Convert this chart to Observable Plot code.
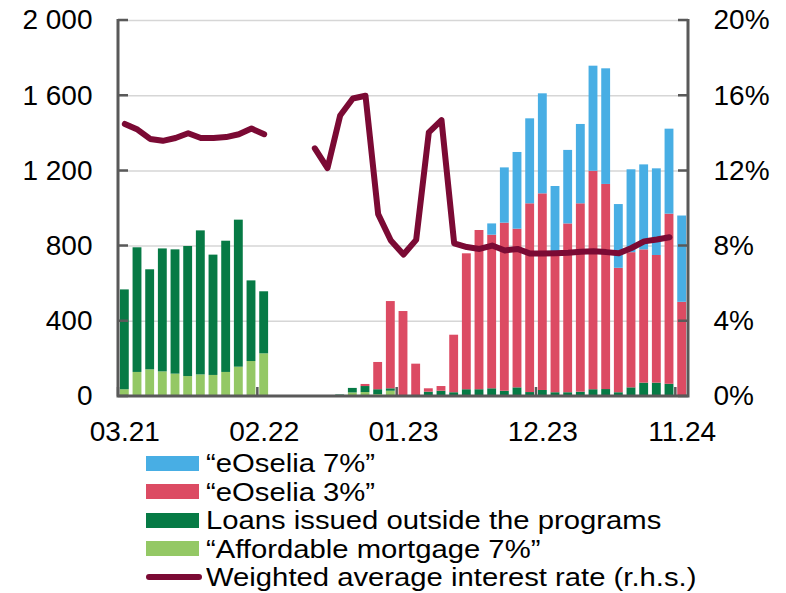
<!DOCTYPE html>
<html>
<head>
<meta charset="utf-8">
<script src="https://cdn.jsdelivr.net/npm/d3@7"></script>
<script src="https://cdn.jsdelivr.net/npm/@observablehq/plot@0.6"></script>
<style>
  html, body { margin: 0; padding: 0; background: #fff; }
  body { width: 786px; height: 593px; overflow: hidden; font-family: "Liberation Sans", Arial, sans-serif; }
  #legend { margin-left: 146px; margin-top: 1px; font-size: 25px; color: #000; }
  .row { display: flex; align-items: center; height: 28.5px; white-space: nowrap; }
  .row span { display: inline-block; line-height: 26px; transform: scaleX(1.17); transform-origin: 0 50%; }
  .sw { width: 53px; height: 15px; margin-right: 7px; flex: none; }
  .ln { width: 56px; height: 6px; border-radius: 3px; margin-right: 4px; flex: none; background: #7B0A34; }
</style>
</head>
<body>
<div id="chart"></div>
<div id="legend"></div>
<script>
const months = ["03.21","04.21","05.21","06.21","07.21","08.21","09.21","10.21","11.21","12.21",
  "01.22","02.22","03.22","04.22","05.22","06.22","07.22","08.22","09.22","10.22","11.22","12.22",
  "01.23","02.23","03.23","04.23","05.23","06.23","07.23","08.23","09.23","10.23","11.23","12.23",
  "01.24","02.24","03.24","04.24","05.24","06.24","07.24","08.24","09.24","10.24","11.24"];
const tickLabels = ["03.21","02.22","01.23","12.23","11.24"];
const yTicks = [0, 400, 800, 1200, 1600, 2000];

const affordable = [36,128,142,131,119,106,115,112,128,156,186,227,
  0,0,0,0,0,0,19,21,10,28,
  0,0,0,0,0,0,0,0,0,0,0,0,
  0,0,0,0,0,0,0,0,0,0,0];
const outside = [531,663,532,654,661,692,766,640,698,782,429,330,
  0,0,0,0,0,8,24,32,26,13,
  3,5,23,28,20,36,36,41,28,46,21,32,
  20,20,23,36,37,20,46,71,71,65,3];
const eOselia3 = [0,0,0,0,0,0,0,0,0,0,0,0,
  0,0,0,0,0,0,0,11,145,464,
  449,167,18,25,306,723,847,817,894,844,1004,1046,
  725,898,1002,1162,1091,662,719,709,679,905,498];
const eOselia7 = [0,0,0,0,0,0,0,0,0,0,0,0,
  0,0,0,0,0,0,0,0,0,0,
  0,0,0,0,0,0,0,60,294,408,452,532,
  372,391,422,559,615,339,441,452,461,452,459];
const rate = [14.5,14.2,13.7,13.6,13.75,14.0,13.75,13.75,13.8,13.95,14.25,13.95,
  null,null,null,13.2,12.15,14.95,15.85,16.0,9.7,8.3,
  7.55,8.33,14.05,14.7,8.15,7.95,7.85,8.03,7.77,7.85,7.6,7.6,
  7.62,7.65,7.7,7.72,7.68,7.62,7.9,8.25,8.35,8.47,null];

const seriesNames = ["“Affordable mortgage 7%”","Loans issued outside the programs","“eOselia 3%”","“eOselia 7%”"];
const seriesValues = [affordable, outside, eOselia3, eOselia7];
const seriesColors = ["#94C865","#067A45","#DC4B63","#48AEE4"];
const lineName = "Weighted average interest rate (r.h.s.)";
const lineColor = "#7B0A34";

const bars = [];
seriesNames.forEach((s, k) => months.forEach((m, i) => bars.push({month: m, series: s, value: seriesValues[k][i]})));
const rateData = months.map((m, i) => ({month: m, rate: rate[i]}));

const frameMark = (index, scales, values, dim) => {
  const x0 = dim.marginLeft, x1 = dim.width - dim.marginRight;
  const y0 = dim.height - dim.marginBottom, yT = dim.marginTop - 1;
  const g = d3.create("svg:g").attr("fill", "none").attr("stroke", "#595959");
  g.append("path").attr("stroke-width", 3)
    .attr("d", `M${x0},${yT}V${y0}H${x1}V${yT}`);
  for (const v of yTicks) {
    const y = scales.y(v);
    g.append("path").attr("stroke-width", 2.5).attr("d", `M${x0},${y}h10M${x1},${y}h-10`);
  }
  for (const m of tickLabels) {
    const x = scales.x(m);
    g.append("path").attr("stroke-width", 2.5).attr("d", `M${x},${y0}v-9`);
  }
  return g.node();
};

const chart = Plot.plot({
  width: 786,
  height: 448,
  marginTop: 20,
  marginBottom: 52,
  marginLeft: 118,
  marginRight: 98,
  style: {fontFamily: "'Liberation Sans', Arial, sans-serif", fontSize: "28px", background: "white", color: "#000", overflow: "visible"},
  x: {type: "band", domain: months, padding: 0, round: false, axis: null},
  y: {domain: [0, 2000], axis: null},
  color: {domain: seriesNames, range: seriesColors},
  marks: [
    Plot.gridY(yTicks.slice(1), {stroke: "#d6d6d6", strokeOpacity: 1, strokeWidth: 1.5}),
    Plot.barY(bars, {x: "month", y: "value", fill: "series", order: seriesNames, insetLeft: 1.9, insetRight: 1.9}),
    Plot.line(rateData, {x: "month", y: d => d.rate == null ? NaN : d.rate * 100, stroke: lineColor, strokeWidth: 6, strokeLinecap: "round", strokeLinejoin: "round"}),
    frameMark,
    Plot.text(yTicks, {y: d => d, frameAnchor: "left", dx: -26, textAnchor: "end", text: d => d3.format(",")(d).replace(/,/g, " "), fill: "#000"}),
    Plot.text(yTicks, {y: d => d, frameAnchor: "right", dx: 25, textAnchor: "start", text: d => (d / 100) + "%", fill: "#000"}),
    Plot.text(tickLabels, {x: d => d, frameAnchor: "bottom", dy: 36, lineAnchor: "middle", text: d => d, fill: "#000"})
  ]
});
document.getElementById("chart").appendChild(chart);

const legend = document.getElementById("legend");
for (const k of [3, 2, 1, 0]) {
  const row = document.createElement("div"); row.className = "row";
  const sw = document.createElement("div"); sw.className = "sw"; sw.style.background = seriesColors[k];
  const t = document.createElement("span"); t.textContent = seriesNames[k];
  row.append(sw, t); legend.append(row);
}
{
  const row = document.createElement("div"); row.className = "row";
  const sw = document.createElement("div"); sw.className = "ln";
  const t = document.createElement("span"); t.textContent = lineName;
  row.append(sw, t); legend.append(row);
}
</script>
</body>
</html>
